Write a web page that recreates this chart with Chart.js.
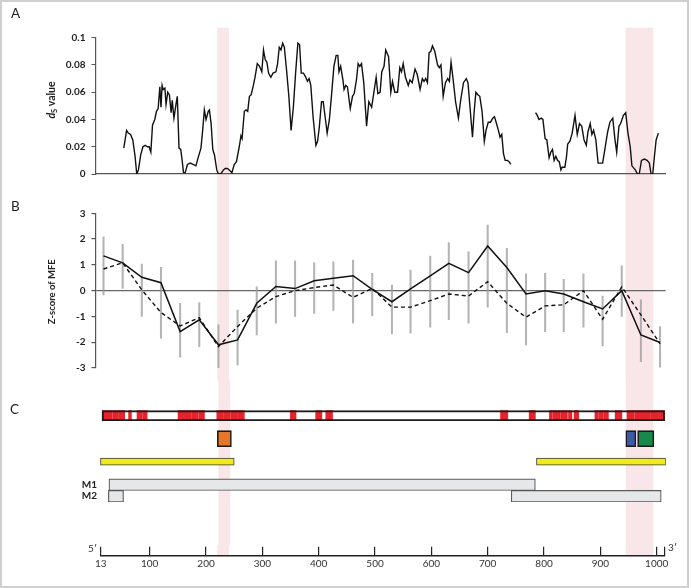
<!DOCTYPE html>
<html><head><meta charset="utf-8">
<script src="https://cdn.jsdelivr.net/npm/chart.js@4.4.0/dist/chart.umd.min.js"></script>
<style>
html,body{margin:0;padding:0;background:#fff;}
#wrap{position:relative;width:691px;height:588px;overflow:hidden;font-family:Lato,"Open Sans",sans-serif;background:#fff;}
#frame{position:absolute;left:0;top:0;width:689px;height:588px;box-sizing:border-box;border:2px solid #cfcfcf;pointer-events:none;}
.pane{position:absolute;left:0;width:691px;}
.lbl{position:absolute;color:#222;line-height:1;white-space:nowrap;}
</style></head><body>
<div id="wrap">
  <div class="pane" style="top:0;height:190px"><canvas id="cA" width="691" height="190"></canvas></div>
  <div class="pane" style="top:190px;height:190px"><canvas id="cB" width="691" height="190"></canvas></div>
  <div class="pane" style="top:380px;height:165px"><canvas id="cC" width="691" height="165"></canvas></div>
  <div class="pane" style="top:545px;height:43px"><canvas id="cD" width="691" height="43"></canvas></div>
  <div class="lbl" style="left:11px;top:7px;font-size:13.5px">A</div>
  <div class="lbl" style="left:11px;top:200px;font-size:13.5px">B</div>
  <div class="lbl" style="left:10px;top:402.5px;font-size:13.5px">C</div>
  <div class="lbl" style="left:88px;top:543px;font-size:10px;color:#333">5′</div>
  <div class="lbl" style="left:668px;top:542px;font-size:10px;color:#333">3′</div>
  <div id="frame"></div>
</div>
<script>
// ---------- DATA ----------
// Panel A: dS value along the genome (position in nt)
const dsPos = [
  54,59,62,66,70,74,77,80,84,88,
  92,96,99,102,105,109,112,115,118,120,
  122,124,127,129,132,135,138,140,143,147,
  149,152,155,157,160,163,167,172,177,182,
  186,191,194,197,200,204,206,209,212,215,
  219,222,226,231,234,238,241,246,250,254,
  259,262,264,268,271,274,277,280,284,287,
  291,295,299,302,305,308,311,315,319,324,
  327,330,333,336,339,343,347,351,355,359,
  363,366,369,373,377,380,383,386,390,395,
  398,401,405,408,412,415,419,423,427,431,
  434,436,439,443,445,448,451,456,460,463,
  467,470,473,476,480,485,489,494,498,502,
  505,509,512,516,519,524,528,531,535,540,
  544,547,550,554,559,562,566,571,575,580,
  584,587,590,593,596,599,602,606,611,614,
  617,621,625,629,632,635,639,643,648,652,
  657,662,665,669,673,676,679,683,686,690,
  694,697,701,705,709,712,715,719,722,725,
  728,731,735,738,741,763,785,788,791,795,
  798,802,805,809,812,815,818,821,824,827,
  830,832,837,840,842,846,850,855,859,863,
  867,871,875,878,882,885,888,892,896,904,
  908,913,917,922,926,929,933,936,941,945,
  949,953,956,962,966,969,973,978,983,987,
  990,993,996,999,1003
];
const dsVal = [
  .019,.032,.030,.029,.025,.013,0,.003,.014,.020,
  .021,.020,.020,.016,.036,.040,.046,.048,.064,.049,
  .065,.062,.063,.051,.060,.058,.045,.054,.041,.052,
  .057,.019,.018,.012,.001,.001,.007,.008,.007,.006,
  .012,.019,.032,.047,.040,.046,.047,.037,.018,.014,
  .003,0,0,.003,.004,.004,.003,.001,.007,.009,
  .020,.028,.026,.046,.047,.046,.057,.058,.065,.071,
  .081,.079,.075,.091,.084,.082,.074,.071,.074,.075,
  .081,.093,.091,.096,.093,.076,.057,.032,.049,.074,
  .096,.095,.074,.074,.071,.068,.070,.065,.042,.021,
  .024,.034,.053,.053,.040,.030,.040,.059,.079,.087,
  .087,.075,.079,.069,.062,.065,.064,.048,.057,.059,
  .069,.081,.079,.081,.067,.035,.053,.049,.060,.071,
  .059,.060,.075,.079,.091,.086,.060,.068,.060,.060,
  .078,.075,.081,.071,.065,.069,.067,.077,.073,.062,
  .070,.068,.070,.067,.089,.090,.094,.090,.080,.078,
  .080,.057,.067,.070,.068,.082,.068,.053,.041,.054,
  .067,.070,.067,.047,.027,.046,.060,.058,.057,.046,
  .024,.032,.038,.038,.041,.042,.038,.032,.027,.029,
  .015,.010,.010,.009,.007,null,.045,.043,.040,.041,
  .040,.026,.025,.012,.016,.018,.010,.013,.010,.009,
  .003,.005,.005,.013,.022,.024,.030,.043,.029,.037,
  .035,.025,.021,.031,.037,.029,.032,.025,.008,.008,
  .018,.031,.038,.041,.025,.016,.035,.037,.043,.045,
  .030,.020,.006,.003,0,0,.010,.011,.010,.008,
  0,0,.013,.025,.030
];
const dsTicks = [0, 0.02, 0.04, 0.06, 0.08, 0.1];

// Panel B: Z-score of MFE (window centres)
const zPos    = [18,52,86,120,154,188,222,256,290,324,358,392,426,461,495,530,563,598,631,666,700,734,768,802,835,870,904,938,972,1006];
const zSolid  = [1.35,1.08,0.52,0.31,-1.59,-1.13,-2.10,-1.91,-0.49,0.16,0.08,0.38,0.48,0.58,0.05,-0.43,0.07,0.57,1.06,0.70,1.73,0.90,-0.13,0.00,-0.13,-0.43,-0.71,0.00,-1.72,-2.01];
const zDashed = [0.84,1.08,0.03,-0.85,-1.37,-1.05,-2.17,-1.39,-0.68,-0.23,0.00,0.12,0.22,-0.26,0.09,-0.64,-0.64,-0.39,-0.13,-0.21,0.35,-0.49,-1.03,-0.59,-0.55,0.00,-1.11,0.15,-0.94,-2.06];
const zErrHigh = [2.09,1.80,1.03,0.90,-0.49,-0.46,-1.33,-0.75,0.15,1.16,1.16,1.08,1.12,1.19,0.67,0.22,0.80,1.34,1.86,1.51,2.54,1.64,0.65,0.67,0.44,0.65,-0.21,0.96,-0.36,-1.39];
const zErrLow  = [-0.17,0.09,-1.00,-1.84,-2.58,-2.17,-3.00,-2.88,-1.72,-1.26,-1.00,-0.88,-0.77,-1.26,-0.98,-1.68,-1.65,-1.42,-1.13,-1.26,-0.64,-1.63,-2.10,-1.59,-1.59,-1.42,-2.14,-1.00,-2.75,-2.97];
const zTicks = [-3,-2,-1,0,1,2,3];

// Highlighted regions (nt)
const bandRanges = [[220,241],[945,994]];

// Panel C: genome map features (nt start, end)
const rows = ['seq','gap1','motif','gap2','orf','gap3','M1','M2'];
const seqRange = [13,1014];
const redStripes = [[13,21],[22,31],[32,41],[42,53],[60,65],[75,84],[85,93],[148,158],[159,171],[172,184],[185,195],
  [217,229],[230,241],[242,254],[255,266],[348,358],[393,404],[411,423],[722,735],[773,784],[809,814],
  [815,828],[829,841],[843,849],[853,861],[890,896],[897,905],[906,914],[926,938],[947,960],[961,975],
  [976,989],[990,1002],[1003,1014]];
const motifRanges = [[218,243],[945,963],[966,995]];
const motifColors = ['#e8762a','#3b5aa8','#17894a'];
const orfRanges = [[10,248],[786,1016]];
const m1Ranges = [[25,784]];
const m2Ranges = [[24,51],[741,1008]];

// Bottom axis
const axisTicks = [13,100,200,300,400,500,600,700,800,900,1000,1014];
const axisLabels = ['13','100','200','300','400','500','600','700','800','900','1000',''];

// ---------- LAYOUT / STYLE ----------
const X_MIN = 3.77, X_MAX = 1016;
const LEFT = 95.5, RIGHT_PAD = 691 - 665.7;
const FONT = 'Lato, "Open Sans", sans-serif';
Chart.defaults.font.family = FONT;
Chart.defaults.color = '#222';
Chart.defaults.animation = false;

function bands(top, toArea) {
  return { id: 'bands', beforeDraw(chart) {
    const {ctx, chartArea} = chart; const xs = chart.scales.x;
    const bottom = toArea ? chartArea.bottom : chart.height;
    ctx.save(); ctx.fillStyle = '#f9e6e8';
    bandRanges.forEach(([a, b]) => {
      const x1 = xs.getPixelForValue(a), x2 = xs.getPixelForValue(b);
      ctx.fillRect(x1, top, x2 - x1, bottom - top);
    });
    ctx.restore();
  }};
}
function vTitle(cx, cy, parts) {
  return { id: 'vtitle', afterDraw(chart) {
    const ctx = chart.ctx; ctx.save(); ctx.translate(cx, cy); ctx.rotate(-Math.PI / 2);
    ctx.fillStyle = '#222'; ctx.textBaseline = 'middle'; ctx.textAlign = 'left';
    let total = 0;
    parts.forEach(p => { ctx.font = p.font; p.w = ctx.measureText(p.text).width; total += p.w; });
    let x = -total / 2;
    parts.forEach(p => { ctx.font = p.font; ctx.fillText(p.text, x, p.dy || 0); x += p.w; });
    ctx.restore();
  }};
}
const common = {
  responsive: false, animation: false, events: [],
  plugins: { legend: { display: false }, tooltip: { enabled: false } }
};
const hiddenX = {
  type: 'linear', min: X_MIN, max: X_MAX,
  ticks: { display: false }, grid: { display: false },
  border: { display: false }, afterFit(s) { s.height = 0; }
};

// ---------- Panel A ----------
new Chart(document.getElementById('cA'), {
  type: 'line',
  data: { datasets: [{
    data: dsPos.map((x, i) => ({ x, y: dsVal[i] })),
    borderColor: '#111', borderWidth: 1.4, pointRadius: 0, tension: 0, spanGaps: false, fill: false
  }]},
  options: Object.assign({}, common, {
    layout: { padding: { left: 0, right: RIGHT_PAD, top: 37.7, bottom: 16 } },
    scales: {
      x: Object.assign({}, hiddenX, { border: { display: true, color: '#555', width: 1.2 } }),
      y: {
        min: 0, max: 0.1,
        afterBuildTicks(s) { s.ticks = dsTicks.map(v => ({ value: v })); },
        ticks: { font: { size: 10, weight: 'bold' }, color: '#222', padding: 6, callback: v => String(+(+v).toFixed(2)) },
        grid: { drawOnChartArea: false, drawTicks: true, tickLength: 4, color: '#555' },
        border: { display: true, color: '#555', width: 1.2 },
        afterFit(s) { s.width = LEFT; }
      }
    }
  }),
  plugins: [bands(27.7, false), vTitle(51.7, 100, [
    { text: 'd', font: 'italic bold 10.5px ' + FONT },
    { text: 'S', font: 'bold 7.5px ' + FONT, dy: 2.5 },
    { text: ' value', font: 'bold 10.5px ' + FONT }
  ])]
});

// ---------- Panel B ----------
new Chart(document.getElementById('cB'), {
  type: 'line',
  data: { datasets: [
    { type: 'line', data: zPos.map((x, i) => ({ x, y: zSolid[i] })), borderColor: '#111', borderWidth: 1.5, pointRadius: 0, tension: 0, order: 0 },
    { type: 'line', data: zPos.map((x, i) => ({ x, y: zDashed[i] })), borderColor: '#111', borderWidth: 1.4, borderDash: [4, 3], pointRadius: 0, tension: 0, order: 1 },
    { type: 'bar', data: zPos.map((x, i) => ({ x, y: [zErrLow[i], zErrHigh[i]] })), backgroundColor: 'rgba(155,155,155,0.75)', borderWidth: 0, barThickness: 1.4, order: 2 }
  ]},
  options: Object.assign({}, common, {
    layout: { padding: { left: 0, right: RIGHT_PAD, top: 23.3, bottom: 11.7 } },
    scales: {
      x: Object.assign({}, hiddenX, { offset: false }),
      y: {
        min: -3, max: 3,
        afterBuildTicks(s) { s.ticks = zTicks.map(v => ({ value: v })); },
        ticks: { font: { size: 10, weight: 'bold' }, color: '#222', padding: 6 },
        grid: { drawOnChartArea: true, drawTicks: true, tickLength: 4,
          color: c => (c.tick && c.tick.value === 0) ? '#666' : 'rgba(0,0,0,0)', tickColor: '#555', lineWidth: 1.2 },
        border: { display: true, color: '#555', width: 1.2 },
        afterFit(s) { s.width = LEFT; }
      }
    }
  }),
  plugins: [bands(0, false), vTitle(51.7, 101.7, [{ text: 'Z-score of MFE', font: 'bold 9.5px ' + FONT }])]
});

// ---------- Panel C ----------
const feat = (ranges, row) => ranges.map(r => ({ x: r, y: row }));
new Chart(document.getElementById('cC'), {
  type: 'bar',
  data: { labels: rows, datasets: [
    { data: feat([seqRange], 'seq'), backgroundColor: 'rgba(0,0,0,0)', borderColor: '#1a1a1a', borderWidth: 1.2, borderSkipped: false, barThickness: 10, grouped: false, order: 0 },
    { data: feat(redStripes, 'seq'), backgroundColor: '#e5232c', borderWidth: 0, barThickness: 10, grouped: false, order: 1 },
    { data: feat([seqRange], 'seq'), backgroundColor: '#ffffff', borderWidth: 0, barThickness: 10, grouped: false, order: 2 },
    { data: feat(motifRanges, 'motif'), backgroundColor: motifColors, borderColor: '#1a1a1a', borderWidth: 1.6, borderSkipped: false, barThickness: 16, grouped: false, order: 0 },
    { data: feat(orfRanges, 'orf'), backgroundColor: '#f1ea1c', borderColor: '#3a3a3a', borderWidth: 1, borderSkipped: false, barThickness: 7, grouped: false, order: 0 },
    { data: feat(m1Ranges, 'M1'), backgroundColor: '#e6e7e8', borderColor: '#5a5a5a', borderWidth: 1.2, borderSkipped: false, barThickness: 11.6, grouped: false, order: 0 },
    { data: feat(m2Ranges, 'M2'), backgroundColor: '#e6e7e8', borderColor: '#5a5a5a', borderWidth: 1.2, borderSkipped: false, barThickness: 11.6, grouped: false, order: 0 }
  ]},
  options: Object.assign({}, common, {
    indexAxis: 'y',
    layout: { padding: { left: 0, right: RIGHT_PAD, top: 29.95, bottom: 43.05 } },
    scales: {
      x: { type: 'linear', display: false, min: X_MIN, max: X_MAX },
      y: {
        type: 'category', offset: true,
        ticks: { autoSkip: false, padding: 0, font: { size: 10, weight: 'bold' }, color: '#222',
          callback: (v, i) => (rows[i] === 'M1' || rows[i] === 'M2') ? rows[i] : '' },
        grid: { display: false, drawTicks: false }, border: { display: false },
        afterFit(s) { s.width = LEFT + 1.5; }
      }
    }
  }),
  plugins: [bands(0, false)]
});

// ---------- Bottom axis ----------
new Chart(document.getElementById('cD'), {
  type: 'line',
  data: { datasets: [] },
  options: Object.assign({}, common, {
    layout: { padding: { left: 100.7, right: 691 - 664.6, top: 1.7, bottom: 12.3 } },
    scales: {
      x: {
        type: 'linear', min: 13, max: 1014,
        afterBuildTicks(s) { s.ticks = axisTicks.map(v => ({ value: v })); },
        ticks: { autoSkip: false, maxRotation: 0, padding: 2, font: { size: 10 }, color: '#333',
          callback: (v, i) => axisLabels[i] },
        grid: { drawOnChartArea: true, drawTicks: false, color: '#222', lineWidth: 1.2 },
        border: { display: true, color: '#222', width: 1.5 },
        afterFit(s) { s.height = 20; }
      },
      y: { display: false, min: 0, max: 1 }
    }
  }),
  plugins: [bands(0, true)]
});
</script>
</body></html>
